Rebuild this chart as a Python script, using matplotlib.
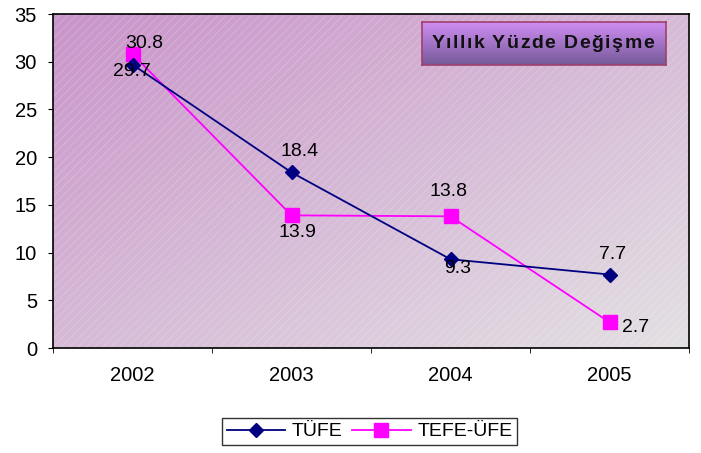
#!/usr/bin/env python3

import matplotlib
matplotlib.use("Agg")
import matplotlib.pyplot as plt
import numpy as np
from matplotlib.patches import Rectangle

years = ["2002", "2003", "2004", "2005"]
tufe = [29.7, 18.4, 9.3, 7.7]
tefe_ufe = [30.8, 13.9, 13.8, 2.7]

title = "Yıllık Yüzde Değişme"

# label offsets in points from the marker
tufe_off = [(-0.7, -4.7), (5.8, 15.1), (5.0, -6.5), (2.2, 14.4)]
tefe_off = [(8.6, 7.9), (4.3, -12.6), (-1.4, 18.0), (18.7, -3.6)]


def main():
  plt.rcParams['font.family'] = ['Liberation Sans', 'DejaVu Sans']
  plt.rcParams['hatch.linewidth'] = 0.6

  fig = plt.figure(figsize=(7.01, 4.53), dpi=100)
  ax = fig.add_axes([53 / 701, 1 - 348 / 453, 636 / 701, 334 / 453])

  x = np.arange(len(years))
  ax.set_xlim(-0.5, len(years) - 0.5)
  ax.set_ylim(0, 35)

  # diagonal gradient background: purple top-left -> light gray bottom-right
  n = 200
  gx, gy = np.meshgrid(np.linspace(0, 1, n), np.linspace(0, 1, n))
  t = np.clip((gx + gy) / 2.0, 0, 1)
  c0 = np.array([0.79, 0.58, 0.79])
  c1 = np.array([0.89, 0.88, 0.89])
  img = c0[None, None, :] * (1 - t[..., None]) + c1[None, None, :] * t[..., None]
  ax.imshow(img, extent=[-0.5, len(years) - 0.5, 0, 35], aspect='auto',
            origin='upper', zorder=0)
  ax.add_patch(Rectangle((0, 0), 1, 1, transform=ax.transAxes, fill=False,
                         hatch='////', edgecolor=(1, 1, 1, 0.22), lw=0, zorder=0.5))

  ax.plot(x, tufe, color='#000080', marker='D', markersize=7, lw=1.3,
          label='TÜFE', zorder=3)
  ax.plot(x, tefe_ufe, color='#ff00ff', marker='s', markersize=9.5, lw=1.3,
          label='TEFE-ÜFE', zorder=2)

  for i in range(len(years)):
    ax.annotate(f"{tufe[i]}", (x[i], tufe[i]), xytext=tufe_off[i],
                textcoords='offset points', ha='center', va='center', fontsize=14)
    ax.annotate(f"{tefe_ufe[i]}", (x[i], tefe_ufe[i]), xytext=tefe_off[i],
                textcoords='offset points', ha='center', va='center', fontsize=14)

  ax.set_xticks(x)
  ax.set_xticklabels(years, fontsize=14.5)
  ax.set_xticks(np.arange(-0.5, len(years)), minor=True)
  ax.tick_params(axis='x', which='major', length=0, pad=13)
  ax.tick_params(axis='x', which='minor', length=3.6, direction='out')
  ax.set_yticks(range(0, 36, 5))
  ax.tick_params(axis='y', labelsize=14.5, length=3.6, pad=8, direction='out')
  for s in ax.spines.values():
    s.set_color('black')
    s.set_linewidth(1.2)

  # title box with gradient fill
  tb = fig.add_axes([422 / 701, 1 - 65 / 453, 244 / 701, 43 / 453])
  tgrad = np.linspace(0, 1, 100)[:, None]
  top = np.array([0.82, 0.56, 0.96])
  bot = np.array([0.46, 0.35, 0.60])
  timg = top[None, None, :] * (1 - tgrad[..., None]) + bot[None, None, :] * tgrad[..., None]
  timg = np.repeat(timg, 2, axis=1)
  tb.imshow(timg, extent=[0, 1, 0, 1], aspect='auto')
  tb.set_xlim(0, 1)
  tb.set_ylim(0, 1)
  tb.set_xticks([])
  tb.set_yticks([])
  for s in tb.spines.values():
    s.set_color('#a0406e')
    s.set_linewidth(1.2)

  # title text with extra letter spacing
  renderer = fig.canvas.get_renderer()
  fs = 14
  track = 1.5  # px per character
  probe = fig.text(0, 0, title, fontsize=fs, fontweight='bold')
  total_w = probe.get_window_extent(renderer).width + track * (len(title) - 1)
  probe.remove()
  x0 = 542.5 - total_w / 2
  for i, ch in enumerate(title):
    if ch == ' ':
      continue
    p = fig.text(0, 0, title[:i + 1], fontsize=fs, fontweight='bold')
    w_pre = p.get_window_extent(renderer).width
    p.remove()
    c = fig.text(0, 0, ch, fontsize=fs, fontweight='bold')
    w_ch = c.get_window_extent(renderer).width
    c.remove()
    px = x0 + w_pre - w_ch + track * i
    fig.text(px / 701, 1 - 43 / 453, ch, fontsize=fs, fontweight='bold',
             ha='left', va='center', color='#111111')

  leg = fig.legend(loc='center', bbox_to_anchor=(369.5 / 701, 1 - 431.5 / 453),
                   ncol=2, fontsize=14, frameon=True, fancybox=False,
                   handlelength=3.0, columnspacing=0.5, handletextpad=0.35,
                   borderpad=0.25)
  leg.get_frame().set_edgecolor('black')
  leg.get_frame().set_linewidth(1.0)

  fig.savefig("out.png", dpi=100)


if __name__ == "__main__":
  main()
